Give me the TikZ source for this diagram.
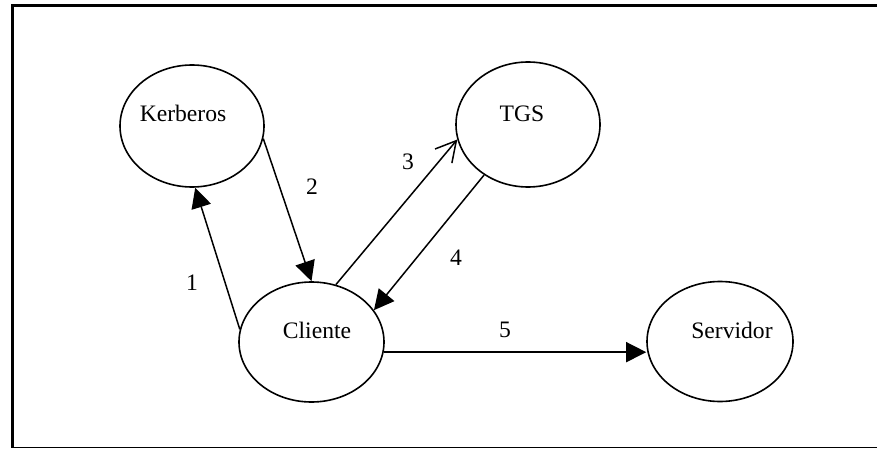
\documentclass[tikz,border=0pt]{standalone}
\usepackage{fontspec}
\setmainfont{Liberation Serif}
\usetikzlibrary{shapes.geometric,arrows.meta}

\tikzset{
  party/.style={ellipse, draw, line width=1.6pt, inner sep=0pt},
  caption/.style={anchor=base, inner sep=0pt, font=\fontsize{23.6}{28}\selectfont},
  msg/.style={line width=1.5pt, -{Triangle[length=20pt,width=20pt]}},
  openmsg/.style={line width=1.5pt, -{Straight Barb[length=20pt,width=22pt,line width=1.5pt]}},
}

\begin{document}
\begin{tikzpicture}[x=1pt,y=-1pt]
  \useasboundingbox (0,0) rectangle (877,449);

  % frame: heavy top and left rules, thin bottom rule
  \draw[line width=3.2pt] (877,5.7) -- (12.5,5.7) -- (12.5,448);
  \draw[line width=1.3pt] (11,447.6) -- (877,447.6);

  % parties
  \node[party, minimum width=144pt, minimum height=122pt] (ker) at (192,126) {};
  \node[party, minimum width=144pt, minimum height=125pt] (tgs) at (528,124.5) {};
  \node[party, minimum width=145pt, minimum height=120pt] (cli) at (311.5,342) {};
  \node[party, minimum width=146pt, minimum height=120pt] (srv) at (720,341.5) {};

  \node[caption] (kerT) at (183,122) {Kerberos};
  \node[caption] (tgsT) at (522,122) {TGS};
  \node[caption] (cliT) at (317,338) {Cliente};
  \node[caption] (srvT) at (732,338) {Servidor};

  % messages
  \draw[msg] (cli.170) -- (ker.273);
  \draw[msg] (ker.-10) -- (cli.90);
  \draw[openmsg] (cli.67) -- (tgs.192);
  \draw[msg] (tgs.229) -- (cli.27);
  \coordinate (m5) at (cli.-8);
  \draw[msg] (m5) -- (srv.west |- m5);

  % message numbers
  \node[caption] (n1) at (192,290) {1};
  \node[caption] (n2) at (312,194) {2};
  \node[caption] (n3) at (408,169) {3};
  \node[caption] (n4) at (456,265.5) {4};
  \node[caption] (n5) at (505,337.5) {5};
\end{tikzpicture}
\end{document}
